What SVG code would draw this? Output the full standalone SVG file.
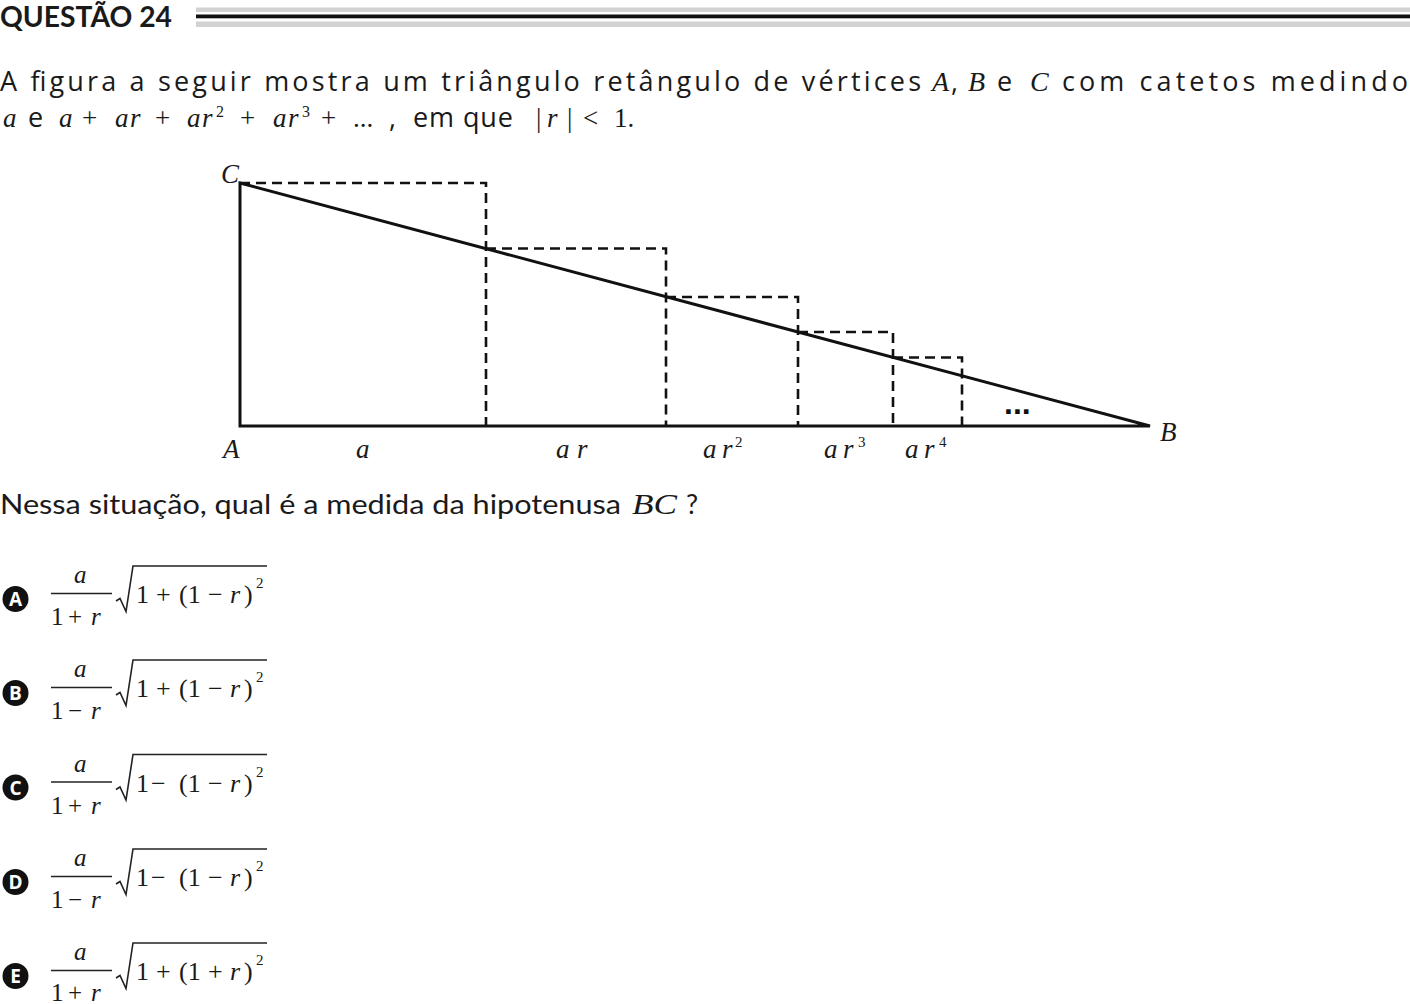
<svg xmlns="http://www.w3.org/2000/svg" width="1410" height="1004" viewBox="0 0 1410 1004">
<style>
.sans{font-family:"Open Sans","DejaVu Sans",sans-serif;fill:#1a1a1a}
.cal{font-family:Lato,"Open Sans",sans-serif;fill:#1a1a1a}
.m{font-family:"Liberation Serif","DejaVu Serif",serif;fill:#1a1a1a}
.i{font-style:italic}
.solid{stroke:#111;stroke-width:3;fill:none;stroke-linecap:square}
.dash{stroke:#111;stroke-width:2.6;fill:none;stroke-dasharray:10 6}
.rad{stroke:#222;stroke-width:1.6;fill:none;stroke-linejoin:miter}
.bar{stroke:#222;stroke-width:1.5}
.badge{fill:#111}
.blet{font-family:"Open Sans","DejaVu Sans",sans-serif;font-weight:700;fill:#fff;font-size:19px;text-anchor:middle}
</style>
<rect width="1410" height="1004" fill="#fff"/>

<g id="header">
<text class="cal" x="0" y="27" font-size="28" font-weight="700" textLength="172" lengthAdjust="spacingAndGlyphs">QUESTÃO 24</text>
<rect x="196" y="7.5" width="1214" height="4.5" fill="#d2d2d2"/>
<rect x="196" y="14.5" width="1214" height="3.8" fill="#111"/>
<rect x="196" y="21.5" width="1214" height="5.5" fill="#d2d2d2"/>
</g>

<g id="statement">
<text class="sans" x="0" y="91" font-size="27" textLength="921" lengthAdjust="spacing">A figura a seguir mostra um triângulo retângulo de vértices</text>
<text class="m i" x="932" y="91" font-size="28">A</text>
<text class="sans" x="951" y="91" font-size="27">,</text>
<text class="m i" x="968" y="91" font-size="28">B</text>
<text class="sans" x="997" y="91" font-size="27">e</text>
<text class="m i" x="1030" y="91" font-size="28">C</text>
<text class="sans" x="1062" y="91" font-size="27" textLength="346" lengthAdjust="spacing">com catetos medindo</text>

<text class="m i" x="3" y="127" font-size="27">a</text>
<text class="sans" x="28" y="127" font-size="27">e</text>
<text class="m i" x="59" y="127" font-size="27">a</text>
<text class="m" x="82" y="127" font-size="27">+</text>
<text class="m i" x="115" y="127" font-size="27">a</text><text class="m i" x="130" y="127" font-size="27">r</text>
<text class="m" x="155" y="127" font-size="27">+</text>
<text class="m i" x="187" y="127" font-size="27">a</text><text class="m i" x="202" y="127" font-size="27">r</text>
<text class="m" x="216" y="117" font-size="16">2</text>
<text class="m" x="240" y="127" font-size="27">+</text>
<text class="m i" x="273" y="127" font-size="27">a</text><text class="m i" x="288" y="127" font-size="27">r</text>
<text class="m" x="302" y="117" font-size="16">3</text>
<text class="m" x="321" y="127" font-size="27">+</text>
<text class="m" x="353" y="127" font-size="27">...</text>
<text class="sans" x="389" y="127" font-size="27">,</text>
<text class="sans" x="413" y="127" font-size="27" textLength="100" lengthAdjust="spacing">em que</text>
<text class="m" x="536" y="127" font-size="27">|</text>
<text class="m i" x="547" y="127" font-size="27">r</text>
<text class="m" x="567" y="127" font-size="27">|</text>
<text class="m" x="583" y="127" font-size="27">&lt;</text>
<text class="m" x="614" y="127" font-size="27">1.</text>
</g>

<g id="figure">
<g id="triangle">
<path class="solid" d="M240,183 V426 H1150 Z" stroke-linejoin="miter"/>
</g>
<g id="squares">
<path class="dash" d="M240,183 H486 V426"/>
<path class="dash" d="M486,248.5 H666 V426"/>
<path class="dash" d="M666,297 H798 V426"/>
<path class="dash" d="M798,332 H893 V426"/>
<path class="dash" d="M893,357.5 H962 V426"/>
</g>
<g id="labels">
<text class="m i" x="221" y="183" font-size="27">C</text>
<text class="m i" x="223" y="458" font-size="27">A</text>
<text class="m i" x="1160" y="441" font-size="27">B</text>
<text class="m i" x="356" y="458" font-size="27">a</text>
<text class="m i" x="556" y="458" font-size="27">a</text>
<text class="m i" x="577" y="458" font-size="27">r</text>
<text class="m i" x="703" y="458" font-size="27">a</text>
<text class="m i" x="722" y="458" font-size="27">r</text>
<text class="m" x="735" y="447" font-size="15">2</text>
<text class="m i" x="824" y="458" font-size="27">a</text>
<text class="m i" x="843" y="458" font-size="27">r</text>
<text class="m" x="858" y="447" font-size="15">3</text>
<text class="m i" x="905" y="458" font-size="27">a</text>
<text class="m i" x="924" y="458" font-size="27">r</text>
<text class="m" x="939" y="447" font-size="15">4</text>
<text x="1004" y="414" font-family="Liberation Sans, sans-serif" font-size="32" font-weight="700" fill="#111">...</text>
</g>
</g>

<g id="question">
<text class="cal" x="0" y="514" font-size="27" textLength="621" lengthAdjust="spacingAndGlyphs">Nessa situação, qual é a medida da hipotenusa</text>
<text class="m i" x="632" y="514" font-size="29" textLength="45" lengthAdjust="spacingAndGlyphs">BC</text>
<text class="cal" x="686" y="514" font-size="27">?</text>
</g>

<g id="option-a">
<circle class="badge" cx="15.5" cy="599" r="13"/>
<text class="blet" x="15.5" y="606">A</text>
<text class="m i" x="74" y="583" font-size="25">a</text>
<line class="bar" x1="51" y1="593.5" x2="112" y2="593.5"/>
<text class="m" x="51" y="625" font-size="25">1</text><text class="m" x="68" y="625" font-size="25">+</text><text class="m i" x="91" y="625" font-size="25">r</text>
<path class="rad" d="M116,601 L120,598.5 L126,611.5 L133,566 H267"/>
<text class="m" x="136" y="603" font-size="26">1</text><text class="m" x="156" y="603" font-size="26">+</text><text class="m" x="179" y="603" font-size="26">(1</text><text class="m" x="208" y="603" font-size="26">−</text><text class="m i" x="230" y="603" font-size="26">r</text><text class="m" x="244" y="603" font-size="26">)</text><text class="m" x="256" y="588" font-size="15">2</text>
</g>

<g id="option-b" transform="translate(0,94)">
<circle class="badge" cx="15.5" cy="599" r="13"/>
<text class="blet" x="15.5" y="606">B</text>
<text class="m i" x="74" y="583" font-size="25">a</text>
<line class="bar" x1="51" y1="593.5" x2="112" y2="593.5"/>
<text class="m" x="51" y="625" font-size="25">1</text><text class="m" x="68" y="625" font-size="25">−</text><text class="m i" x="91" y="625" font-size="25">r</text>
<path class="rad" d="M116,601 L120,598.5 L126,611.5 L133,566 H267"/>
<text class="m" x="136" y="603" font-size="26">1</text><text class="m" x="156" y="603" font-size="26">+</text><text class="m" x="179" y="603" font-size="26">(1</text><text class="m" x="208" y="603" font-size="26">−</text><text class="m i" x="230" y="603" font-size="26">r</text><text class="m" x="244" y="603" font-size="26">)</text><text class="m" x="256" y="588" font-size="15">2</text>
</g>

<g id="option-c" transform="translate(0,188.5)">
<circle class="badge" cx="15.5" cy="599" r="13"/>
<text class="blet" x="15.5" y="606">C</text>
<text class="m i" x="74" y="583" font-size="25">a</text>
<line class="bar" x1="51" y1="593.5" x2="112" y2="593.5"/>
<text class="m" x="51" y="625" font-size="25">1</text><text class="m" x="68" y="625" font-size="25">+</text><text class="m i" x="91" y="625" font-size="25">r</text>
<path class="rad" d="M116,601 L120,598.5 L126,611.5 L133,566 H267"/>
<text class="m" x="136" y="603" font-size="26">1</text><text class="m" x="151" y="603" font-size="26">−</text><text class="m" x="179" y="603" font-size="26">(1</text><text class="m" x="208" y="603" font-size="26">−</text><text class="m i" x="230" y="603" font-size="26">r</text><text class="m" x="244" y="603" font-size="26">)</text><text class="m" x="256" y="588" font-size="15">2</text>
</g>

<g id="option-d" transform="translate(0,283)">
<circle class="badge" cx="15.5" cy="599" r="13"/>
<text class="blet" x="15.5" y="606">D</text>
<text class="m i" x="74" y="583" font-size="25">a</text>
<line class="bar" x1="51" y1="593.5" x2="112" y2="593.5"/>
<text class="m" x="51" y="625" font-size="25">1</text><text class="m" x="68" y="625" font-size="25">−</text><text class="m i" x="91" y="625" font-size="25">r</text>
<path class="rad" d="M116,601 L120,598.5 L126,611.5 L133,566 H267"/>
<text class="m" x="136" y="603" font-size="26">1</text><text class="m" x="151" y="603" font-size="26">−</text><text class="m" x="179" y="603" font-size="26">(1</text><text class="m" x="208" y="603" font-size="26">−</text><text class="m i" x="230" y="603" font-size="26">r</text><text class="m" x="244" y="603" font-size="26">)</text><text class="m" x="256" y="588" font-size="15">2</text>
</g>

<g id="option-e" transform="translate(0,377)">
<circle class="badge" cx="15.5" cy="599" r="13"/>
<text class="blet" x="15.5" y="606">E</text>
<text class="m i" x="74" y="583" font-size="25">a</text>
<line class="bar" x1="51" y1="593.5" x2="112" y2="593.5"/>
<text class="m" x="51" y="624" font-size="25">1</text><text class="m" x="68" y="624" font-size="25">+</text><text class="m i" x="91" y="624" font-size="25">r</text>
<path class="rad" d="M116,601 L120,598.5 L126,611.5 L133,566 H267"/>
<text class="m" x="136" y="603" font-size="26">1</text><text class="m" x="156" y="603" font-size="26">+</text><text class="m" x="179" y="603" font-size="26">(1</text><text class="m" x="208" y="603" font-size="26">+</text><text class="m i" x="230" y="603" font-size="26">r</text><text class="m" x="244" y="603" font-size="26">)</text><text class="m" x="256" y="588" font-size="15">2</text>
</g>
</svg>
